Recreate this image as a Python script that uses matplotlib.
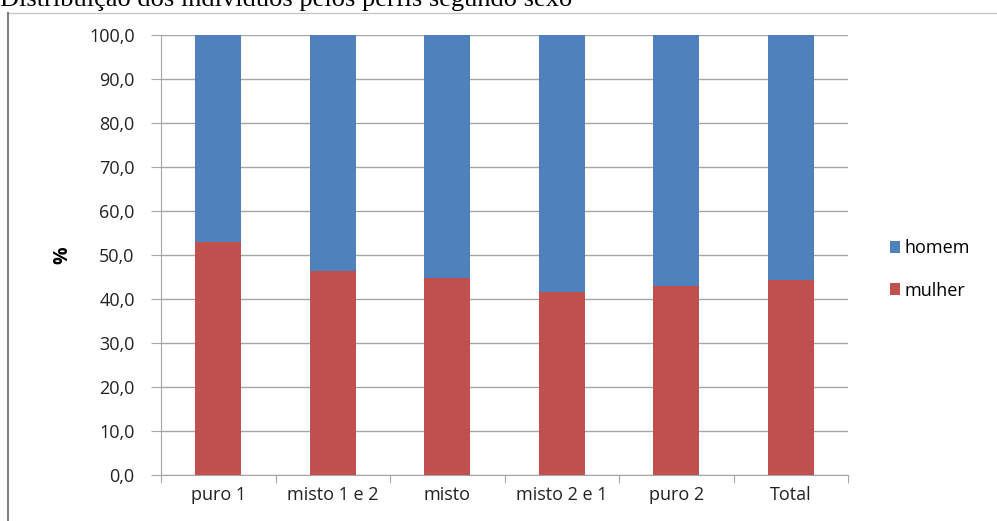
import matplotlib.pyplot as plt
from matplotlib.lines import Line2D
import numpy as np

categories = ['puro 1', 'misto 1 e 2', 'misto', 'misto 2 e 1', 'puro 2', 'Total']
mulher = [52.9, 46.4, 44.7, 41.6, 43.0, 44.3]
homem = [100 - v for v in mulher]
yticks = np.arange(0, 101, 10)

blue = '#4f81bd'
red = '#c0504d'
grid = '#a6a6a6'
txt = '#222222'

fig = plt.figure(figsize=(9.97, 5.21), dpi=100)
ax = fig.add_axes([0.1615, 0.0883, 0.8506 - 0.1615, 0.9328 - 0.0883])

x = np.arange(len(categories))
ax.bar(x, mulher, width=0.4, color=red, label='mulher', zorder=3)
ax.bar(x, homem, width=0.4, bottom=mulher, color=blue, label='homem', zorder=3)

ax.set_xlim(-0.5, len(categories) - 0.5)
ax.set_ylim(0, 100)
ax.set_yticks(yticks)
ax.set_yticklabels([f'{v:.1f}'.replace('.', ',') for v in yticks],
                   fontsize=13, color=txt, family='Open Sans')
ax.yaxis.grid(True, color=grid, linewidth=1, zorder=0)

# ticks between categories
ax.set_xticks(np.arange(-0.5, len(categories), 1))
ax.set_xticklabels([])
ax.set_xticks(x, minor=True)
ax.set_xticklabels(categories, minor=True, fontsize=13, color=txt, family='Open Sans')
ax.tick_params(axis='x', which='minor', length=0, pad=8)
ax.tick_params(axis='x', which='major', length=6, color=grid, direction='out')
ax.tick_params(axis='y', length=7, color=grid, pad=12)

for s in ['top', 'right']:
    ax.spines[s].set_visible(False)
for s in ['left', 'bottom']:
    ax.spines[s].set_color(grid)

ax.set_ylabel('%', fontsize=14, fontweight='bold', family='Open Sans', labelpad=12)

handles, labels = ax.get_legend_handles_labels()
fig.legend(handles[::-1], labels[::-1], loc='center left', bbox_to_anchor=(0.876, 0.483),
           frameon=False, prop={'family': 'Open Sans', 'size': 13},
           handlelength=0.6, handleheight=0.6, handletextpad=0.25, labelspacing=1.35)

# frame lines of the original picture
fig.add_artist(Line2D([0.008, 1.0], [1 - 13 / 521, 1 - 13 / 521], color='#c8c8c8', lw=1))
fig.add_artist(Line2D([0.008, 0.008], [0, 1 - 13 / 521], color='#808080', lw=1.5))

# title, cut off at the top edge
fig.text(0.0, 1 - 6 / 521, 'Distribuição dos indivíduos pelos perfis segundo sexo',
         fontsize=19, family='Liberation Serif', va='baseline', ha='left')

fig.savefig('out.png', dpi=100)
